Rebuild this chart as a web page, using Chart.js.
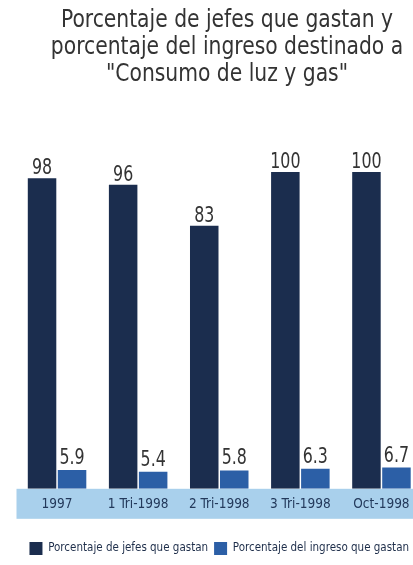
<!DOCTYPE html>
<html>
<head>
<meta charset="utf-8">
<script src="https://cdn.jsdelivr.net/npm/chart.js@4"></script>
<style>
  html, body { margin: 0; padding: 0; background: #ffffff; overflow: hidden; }
  #wrap { position: relative; width: 413px; height: 565px; overflow: hidden; }
  #title {
    position: absolute; left: 0; top: 6px; width: 454px;
    text-align: center; color: #333333;
    font-family: 'DejaVu Sans Condensed', sans-serif;
    font-size: 24px; line-height: 27px;
    transform: scaleX(0.94); transform-origin: 227px 0;
  }
  canvas { position: absolute; left: 0; top: 0; }
</style>
</head>
<body>
<div id="wrap">
  <canvas id="chart" width="422" height="565" style="width:422px;height:565px"></canvas>
  <div id="title">Porcentaje de jefes que gastan y<br>porcentaje del ingreso destinado a<br>"Consumo de luz y gas"</div>
</div>
<script>
const categories = ['1997', '1 Tri-1998', '2 Tri-1998', '3 Tri-1998', 'Oct-1998'];
const jefesValues = [98, 96, 83, 100, 100];
const ingresoValues = [5.9, 5.4, 5.8, 6.3, 6.7];
const seriesNames = ['Porcentaje de jefes que gastan', 'Porcentaje del ingreso que gastan'];

const narrow = "'DejaVu Sans Condensed', sans-serif";

// light blue band behind the category labels
const bandPlugin = {
  id: 'band',
  beforeDraw(chart) {
    const { ctx, chartArea } = chart;
    ctx.save();
    ctx.fillStyle = '#a9d0ec';
    ctx.fillRect(chartArea.left, chartArea.bottom, chart.width - chartArea.left, 30);
    ctx.restore();
  }
};

// value labels above each bar (squeezed horizontally like the print font)
const valueLabels = {
  id: 'valueLabels',
  afterDatasetsDraw(chart) {
    const { ctx } = chart;
    chart.data.datasets.forEach((ds, i) => {
      const offset = i === 0 ? 4 : 6;
      chart.getDatasetMeta(i).data.forEach((bar, j) => {
        ctx.save();
        ctx.translate(bar.x, bar.y - offset);
        ctx.scale(0.8, 1);
        ctx.font = '22px ' + narrow;
        ctx.fillStyle = '#333333';
        ctx.textAlign = 'center';
        ctx.textBaseline = 'alphabetic';
        ctx.fillText(String(ds.data[j]), 0, 0);
        ctx.restore();
      });
    });
  }
};

new Chart(document.getElementById('chart'), {
  type: 'bar',
  data: {
    labels: categories,
    datasets: [
      {
        label: seriesNames[0],
        data: jefesValues,
        backgroundColor: '#1b2d4e',
        categoryPercentage: 0.74,
        barPercentage: 0.95
      },
      {
        label: seriesNames[1],
        data: ingresoValues,
        backgroundColor: '#2c5fa6',
        categoryPercentage: 0.74,
        barPercentage: 0.95
      }
    ]
  },
  options: {
    responsive: false,
    animation: false,
    layout: { padding: { left: 16.5, right: 0, top: 172, bottom: 0 } },
    plugins: {
      title: { display: false },
      tooltip: { enabled: false },
      legend: {
        display: true,
        position: 'bottom',
        labels: {
          boxWidth: 13,
          boxHeight: 13,
          padding: 6,
          color: '#1e2e4a',
          font: { family: narrow, size: 11.5 }
        }
      }
    },
    scales: {
      x: {
        grid: { display: false, drawTicks: false },
        border: { display: false },
        afterFit(scale) { scale.height += 15; },
        ticks: {
          padding: 8,
          maxRotation: 0,
          minRotation: 0,
          autoSkip: false,
          color: '#23395b',
          font: { family: narrow, size: 13.5 }
        }
      },
      y: {
        display: false,
        min: 0,
        max: 100
      }
    }
  },
  plugins: [bandPlugin, valueLabels]
});
</script>
</body>
</html>
